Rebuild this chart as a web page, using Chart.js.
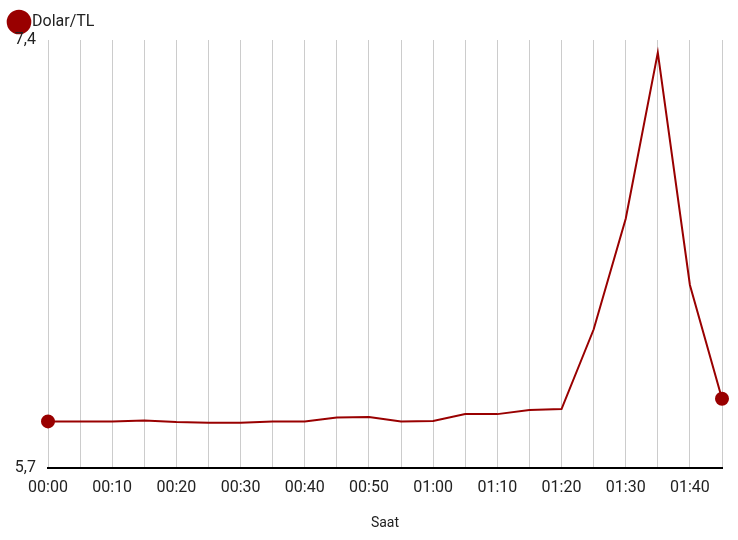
<!DOCTYPE html>
<html lang="tr">
<head>
  <meta charset="UTF-8">
  <title>Dolar/TL</title>
  <script src="https://cdn.jsdelivr.net/npm/chart.js"></script>
  <style>
    body { margin: 0; background: #fff; }
    #wrap { width: 738px; height: 540px; }
  </style>
</head>
<body>
  <div id="wrap"><canvas id="kurChart" width="738" height="540"></canvas></div>
  <script>
    const saatler = ['00:00','00:05','00:10','00:15','00:20','00:25','00:30','00:35','00:40','00:45','00:50',
                     '00:55','01:00','01:05','01:10','01:15','01:20','01:25','01:30','01:35','01:40','01:45'];
    const kurlar = [5.885, 5.885, 5.885, 5.889, 5.883, 5.88, 5.88, 5.885, 5.885, 5.901, 5.903,
                    5.885, 5.887, 5.914, 5.914, 5.93, 5.934, 6.25, 6.69, 7.35, 6.427, 5.975];
    const yTikler = [5.7, 7.4];

    const renk = '#990000';
    const ctx = document.getElementById('kurChart').getContext('2d');
    const chart = new Chart(ctx, {
      type: 'line',
      data: {
        labels: saatler,
        datasets: [{
          label: 'Dolar/TL',
          data: kurlar,
          borderColor: renk,
          backgroundColor: renk,
          borderWidth: 2,
          tension: 0,
          pointRadius: kurlar.map((v, i) => (i === 0 || i === kurlar.length - 1) ? 6 : 0),
          pointHoverRadius: 6
        }]
      },
      options: {
        responsive: false,
        animation: false,
        layout: { padding: { left: 0, right: 16, top: 0, bottom: 4 } },
        plugins: {
          legend: {
            align: 'start',
            labels: {
              usePointStyle: true, pointStyle: 'circle', boxWidth: 10,
              color: '#222', font: { family: 'Roboto', size: 16 }, padding: 14
            }
          },
          tooltip: { enabled: false }
        },
        scales: {
          x: {
            offset: false,
            grid: { display: true, color: '#cccccc', drawTicks: false },
            border: { display: true, color: '#000', width: 2 },
            ticks: {
              color: '#222', font: { family: 'Roboto', size: 16 }, padding: 10,
              maxRotation: 0, autoSkip: false,
              callback: (v, i) => i % 2 === 0 ? saatler[i] : ''
            },
            title: { display: true, text: 'Saat', color: '#222', font: { family: 'Roboto', size: 14 }, padding: { top: 8 } }
          },
          y: {
            min: 5.7, max: 7.4,
            afterBuildTicks: s => { s.ticks = yTikler.map(v => ({ value: v })); },
            afterFit: s => { s.width = 48; },
            grid: { display: false },
            border: { display: false },
            ticks: {
              color: '#222', font: { family: 'Roboto', size: 16 }, padding: 4,
              callback: v => String(v).replace('.', ',')
            }
          }
        }
      }
    });
  </script>
</body>
</html>
